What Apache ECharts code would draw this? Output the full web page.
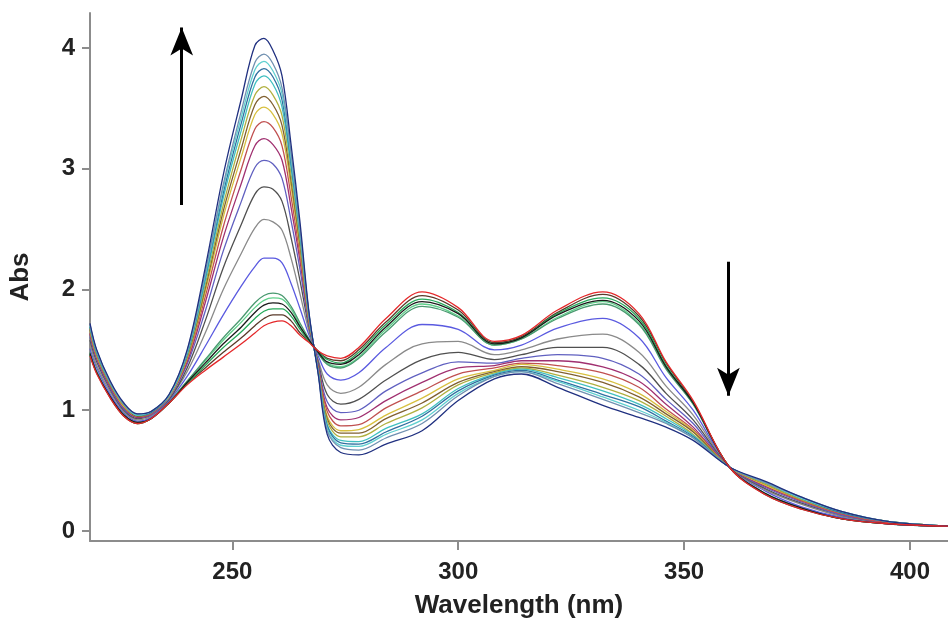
<!DOCTYPE html>
<html><head><meta charset="utf-8">
<script src="https://cdn.jsdelivr.net/npm/echarts@6/dist/echarts.min.js"></script>
<style>html,body{margin:0;padding:0;background:#fff}#c{width:948px;height:625px}</style>
</head><body><div id="c"></div>
<script>
const wavelengths = [218.5,220,223,226,229,232,236,240,244,248,252,255,257,259,261,263,265,267,269,271,274,278,284,292,300,308,314,322,332,340,346,352,360,368,376,385,395,408.4];

const s00 = [1.45,1.30,1.10,0.95,0.89,0.93,1.06,1.21,1.33,1.44,1.55,1.64,1.70,1.73,1.74,1.70,1.62,1.56,1.49,1.45,1.43,1.52,1.76,1.98,1.85,1.57,1.62,1.83,1.98,1.80,1.40,1.08,0.53,0.30,0.18,0.10,0.06,0.04];
const s01 = [1.46,1.31,1.10,0.95,0.89,0.93,1.06,1.22,1.35,1.48,1.60,1.70,1.76,1.79,1.79,1.74,1.64,1.57,1.49,1.43,1.41,1.50,1.73,1.95,1.83,1.56,1.61,1.81,1.96,1.78,1.39,1.07,0.53,0.30,0.18,0.10,0.06,0.04];
const s02 = [1.46,1.31,1.11,0.96,0.89,0.93,1.06,1.22,1.37,1.52,1.65,1.76,1.82,1.84,1.84,1.78,1.67,1.57,1.48,1.42,1.39,1.48,1.71,1.92,1.81,1.55,1.60,1.80,1.93,1.76,1.37,1.06,0.53,0.31,0.19,0.10,0.06,0.04];
const s03 = [1.47,1.31,1.11,0.96,0.90,0.93,1.06,1.23,1.39,1.55,1.69,1.81,1.87,1.89,1.88,1.81,1.69,1.58,1.48,1.40,1.38,1.46,1.69,1.90,1.80,1.55,1.60,1.79,1.91,1.74,1.36,1.06,0.53,0.31,0.19,0.10,0.06,0.04];
const s04 = [1.47,1.32,1.11,0.96,0.90,0.94,1.07,1.24,1.41,1.58,1.73,1.85,1.91,1.93,1.92,1.84,1.70,1.58,1.47,1.39,1.36,1.44,1.67,1.88,1.78,1.54,1.59,1.77,1.90,1.72,1.35,1.05,0.53,0.31,0.19,0.11,0.06,0.04];
const s05 = [1.48,1.32,1.11,0.96,0.90,0.94,1.07,1.24,1.42,1.60,1.76,1.89,1.95,1.97,1.95,1.86,1.72,1.59,1.47,1.38,1.35,1.43,1.65,1.86,1.77,1.54,1.59,1.76,1.88,1.71,1.34,1.05,0.53,0.31,0.19,0.11,0.06,0.04];
const s06 = [1.51,1.35,1.13,0.98,0.91,0.94,1.08,1.28,1.53,1.79,2.03,2.19,2.26,2.26,2.22,2.05,1.84,1.62,1.45,1.30,1.25,1.31,1.52,1.71,1.67,1.50,1.54,1.68,1.76,1.60,1.27,1.00,0.53,0.33,0.20,0.11,0.06,0.04];
const s07 = [1.55,1.37,1.15,0.99,0.92,0.95,1.09,1.32,1.64,2.00,2.30,2.51,2.58,2.56,2.49,2.26,1.96,1.65,1.42,1.21,1.14,1.19,1.38,1.55,1.57,1.46,1.50,1.59,1.63,1.48,1.20,0.96,0.53,0.34,0.22,0.12,0.07,0.04];
const s08 = [1.58,1.40,1.17,1.00,0.93,0.96,1.09,1.35,1.74,2.18,2.54,2.79,2.85,2.83,2.73,2.43,2.07,1.68,1.40,1.13,1.05,1.09,1.25,1.42,1.48,1.42,1.46,1.52,1.52,1.38,1.14,0.92,0.53,0.35,0.23,0.13,0.07,0.04];
const s09 = [1.61,1.42,1.18,1.01,0.94,0.96,1.10,1.38,1.82,2.32,2.73,3.01,3.07,3.04,2.92,2.57,2.16,1.70,1.38,1.07,0.98,1.00,1.16,1.31,1.40,1.39,1.43,1.46,1.43,1.30,1.09,0.89,0.53,0.36,0.24,0.13,0.07,0.04];
const s10 = [1.63,1.43,1.19,1.02,0.94,0.97,1.11,1.40,1.89,2.43,2.88,3.19,3.25,3.20,3.07,2.68,2.23,1.72,1.37,1.02,0.92,0.94,1.08,1.23,1.35,1.37,1.41,1.41,1.36,1.24,1.05,0.86,0.53,0.37,0.25,0.14,0.07,0.04];
const s11 = [1.64,1.44,1.20,1.03,0.95,0.97,1.11,1.42,1.94,2.52,3.00,3.33,3.39,3.34,3.19,2.77,2.28,1.73,1.35,0.99,0.87,0.88,1.02,1.16,1.30,1.35,1.39,1.37,1.31,1.19,1.01,0.84,0.53,0.38,0.25,0.14,0.07,0.04];
const s12 = [1.66,1.45,1.21,1.03,0.95,0.98,1.11,1.43,1.98,2.60,3.10,3.45,3.51,3.45,3.29,2.85,2.33,1.74,1.34,0.95,0.83,0.84,0.96,1.10,1.26,1.33,1.38,1.34,1.26,1.14,0.99,0.83,0.53,0.38,0.26,0.15,0.08,0.04];
const s13 = [1.67,1.46,1.21,1.04,0.95,0.98,1.12,1.44,2.01,2.65,3.17,3.53,3.60,3.53,3.36,2.90,2.36,1.75,1.34,0.93,0.81,0.81,0.93,1.06,1.23,1.32,1.36,1.32,1.23,1.11,0.97,0.82,0.53,0.39,0.26,0.15,0.08,0.04];
const s14 = [1.68,1.47,1.22,1.04,0.96,0.98,1.12,1.45,2.04,2.70,3.25,3.61,3.68,3.61,3.44,2.95,2.40,1.76,1.33,0.91,0.78,0.78,0.89,1.02,1.21,1.31,1.35,1.29,1.19,1.08,0.95,0.80,0.53,0.39,0.26,0.15,0.08,0.04];
const s15 = [1.69,1.47,1.22,1.05,0.96,0.98,1.12,1.46,2.07,2.76,3.32,3.70,3.77,3.70,3.51,3.01,2.43,1.77,1.32,0.88,0.75,0.74,0.85,0.97,1.18,1.30,1.34,1.27,1.16,1.05,0.93,0.79,0.53,0.40,0.27,0.15,0.08,0.04];
const s16 = [1.69,1.48,1.23,1.05,0.96,0.98,1.12,1.47,2.10,2.80,3.38,3.76,3.83,3.76,3.57,3.05,2.46,1.78,1.32,0.87,0.73,0.72,0.82,0.95,1.16,1.29,1.33,1.25,1.13,1.03,0.91,0.78,0.53,0.40,0.27,0.15,0.08,0.04];
const s17 = [1.70,1.49,1.23,1.05,0.96,0.99,1.12,1.48,2.12,2.84,3.43,3.82,3.89,3.81,3.62,3.09,2.48,1.78,1.31,0.85,0.71,0.70,0.80,0.92,1.14,1.28,1.32,1.24,1.11,1.00,0.90,0.77,0.53,0.40,0.27,0.16,0.08,0.04];
const s18 = [1.71,1.49,1.23,1.05,0.97,0.99,1.13,1.49,2.14,2.87,3.48,3.88,3.95,3.87,3.67,3.13,2.50,1.79,1.31,0.83,0.69,0.67,0.77,0.89,1.12,1.28,1.32,1.22,1.09,0.98,0.89,0.77,0.53,0.40,0.28,0.16,0.08,0.04];
const s19 = [1.72,1.50,1.24,1.06,0.97,0.99,1.13,1.50,2.18,2.95,3.58,4.02,4.08,3.98,3.77,3.20,2.55,1.80,1.30,0.80,0.65,0.63,0.72,0.83,1.08,1.26,1.30,1.19,1.04,0.94,0.86,0.75,0.53,0.41,0.28,0.16,0.08,0.04];

const seriesValues = [s01,s02,s04,s05,s06,s07,s08,s09,s10,s11,s12,s13,s14,s15,s16,s17,s18,s03,s19,s00];
const seriesColors = ['#5a3a2a','#26a95a','#5fd08a','#4a9a70','#5a5ae0','#8a8a8a','#505050','#6060c0','#a03070','#c05050','#d8c040','#806030','#b0b040','#40c0c0','#3070a0','#60d0d0','#7090b0','#1a1a1a','#203080','#e4282a'];

const xTicks = [250,300,350,400];
const yTicks = [0,1,2,3,4];

const axisColor = '#8c8c8c';
const font = 'Liberation Sans, Arial, sans-serif';

const series = seriesValues.map((vals, k) => ({
  type: 'line',
  data: wavelengths.map((w, i) => [w, vals[i]]),
  smooth: 0.35,
  showSymbol: false,
  symbol: 'none',
  silent: true,
  lineStyle: { width: 1.3, color: seriesColors[k] },
  z: 2
}));

series.push({
  type: 'line',
  data: [],
  silent: true,
  markLine: {
    silent: true,
    symbol: ['none', 'arrow'],
    symbolSize: [17, 28],
    label: { show: false },
    lineStyle: { color: '#000', width: 3, type: 'solid' },
    data: [
      [{ coord: [238.8, 2.70] }, { coord: [238.8, 4.17] }],
      [{ coord: [359.8, 2.23] }, { coord: [359.8, 1.12] }]
    ]
  }
});

const chart = echarts.init(document.getElementById('c'), null, { renderer: 'canvas' });
chart.setOption({
  animation: false,
  backgroundColor: '#ffffff',
  grid: { left: 89, right: 0, top: 13, bottom: 84, containLabel: false },
  xAxis: {
    type: 'value', min: 218.5, max: 408.4,
    axisLine: { show: true, onZero: false, lineStyle: { color: axisColor, width: 2 } },
    axisTick: { show: true, length: 9, customValues: xTicks, lineStyle: { color: axisColor, width: 2 } },
    axisLabel: { customValues: xTicks, fontSize: 24, fontWeight: 'bold', color: '#222', margin: 19, fontFamily: font },
    splitLine: { show: false },
    name: 'Wavelength (nm)', nameLocation: 'middle', nameGap: 52,
    nameTextStyle: { fontSize: 26, fontWeight: 'bold', color: '#222', fontFamily: font }
  },
  yAxis: {
    type: 'value', min: -0.083, max: 4.29,
    axisLine: { show: true, onZero: false, lineStyle: { color: axisColor, width: 2 } },
    axisTick: { show: true, length: 8, customValues: yTicks, lineStyle: { color: axisColor, width: 2 } },
    axisLabel: { customValues: yTicks, fontSize: 24, fontWeight: 'bold', color: '#222', margin: 15, fontFamily: font },
    splitLine: { show: false },
    name: 'Abs', nameLocation: 'middle', nameGap: 56, nameRotate: 90,
    nameTextStyle: { fontSize: 26, fontWeight: 'bold', color: '#222', fontFamily: font }
  },
  series: series
});
</script>
</body></html>
